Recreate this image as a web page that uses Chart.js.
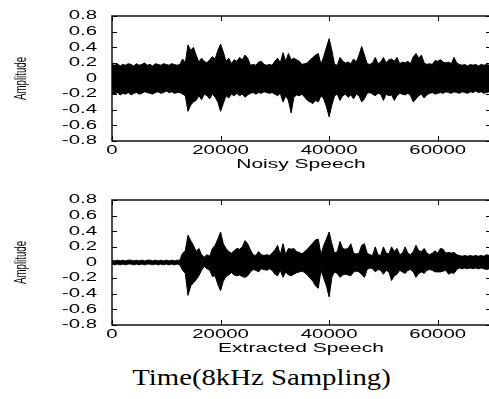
<!DOCTYPE html>
<html>
<head>
<meta charset="utf-8">
<script src="https://cdn.jsdelivr.net/npm/chart.js@4.4.1/dist/chart.umd.min.js"></script>
<style>
  html, body { margin: 0; padding: 0; background: #fff; overflow: hidden; }
  #wrap { position: relative; width: 489px; height: 399px; overflow: hidden; }
  #noisyChart { position: absolute; left: 0; top: 0; }
  #cleanChart { position: absolute; left: 0; top: 184px; }
  #xTitle {
    position: absolute; left: 0; top: 365px; width: 523px; text-align: center;
    font-family: "Liberation Serif", "DejaVu Serif", serif; font-size: 23px; color: #000;
    transform: scaleX(1.25); transform-origin: 261.5px 0;
  }
</style>
</head>
<body>
<div id="wrap">
  <canvas id="noisyChart" width="492" height="172"></canvas>
  <canvas id="cleanChart" width="492" height="172"></canvas>
  <div id="xTitle">Time(8kHz Sampling)</div>
</div>
<script>
// envelope of each waveform, one value every STEP samples
const STEP = 500;

const noisyUpper = [
    0.18,0.17,0.19,0.16,0.18,0.17,0.19,0.18,0.16,0.19,
    0.17,0.18,0.20,0.17,0.18,0.16,0.19,0.18,0.17,0.19,
    0.18,0.17,0.19,0.18,0.17,0.18,0.25,0.20,0.43,0.36,
    0.40,0.30,0.21,0.26,0.22,0.20,0.24,0.28,0.25,0.36,
    0.44,0.34,0.22,0.26,0.19,0.24,0.22,0.27,0.24,0.30,
    0.26,0.17,0.18,0.17,0.21,0.22,0.18,0.17,0.18,0.17,
    0.22,0.26,0.20,0.33,0.22,0.32,0.24,0.26,0.24,0.22,
    0.18,0.19,0.20,0.24,0.27,0.30,0.32,0.18,0.28,0.40,
    0.51,0.36,0.18,0.17,0.27,0.22,0.20,0.21,0.19,0.25,
    0.21,0.30,0.41,0.30,0.19,0.18,0.20,0.27,0.19,0.21,
    0.27,0.20,0.24,0.25,0.22,0.27,0.19,0.21,0.20,0.22,
    0.19,0.28,0.32,0.26,0.30,0.20,0.18,0.19,0.18,0.23,
    0.22,0.24,0.21,0.20,0.21,0.19,0.27,0.20,0.18,0.17,
    0.18,0.16,0.18,0.17,0.18,0.16,0.18,0.17,0.18,0.17,
    0.18
];

const noisyLower = [
    -0.19,-0.20,-0.18,-0.21,-0.19,-0.20,-0.18,-0.21,-0.19,-0.18,
    -0.20,-0.19,-0.17,-0.18,-0.19,-0.20,-0.18,-0.17,-0.19,-0.18,
    -0.16,-0.18,-0.17,-0.19,-0.18,-0.18,-0.20,-0.22,-0.42,-0.34,
    -0.30,-0.28,-0.22,-0.27,-0.20,-0.22,-0.26,-0.20,-0.24,-0.30,
    -0.42,-0.32,-0.22,-0.25,-0.20,-0.22,-0.19,-0.22,-0.20,-0.24,
    -0.21,-0.19,-0.18,-0.20,-0.18,-0.19,-0.17,-0.18,-0.19,-0.18,
    -0.20,-0.22,-0.19,-0.30,-0.22,-0.28,-0.44,-0.24,-0.21,-0.22,
    -0.20,-0.24,-0.28,-0.30,-0.32,-0.28,-0.30,-0.22,-0.26,-0.36,
    -0.49,-0.34,-0.22,-0.20,-0.28,-0.22,-0.20,-0.24,-0.21,-0.26,
    -0.20,-0.22,-0.30,-0.26,-0.19,-0.18,-0.20,-0.22,-0.19,-0.20,
    -0.28,-0.20,-0.22,-0.21,-0.28,-0.22,-0.19,-0.20,-0.21,-0.19,
    -0.22,-0.30,-0.26,-0.22,-0.20,-0.25,-0.21,-0.19,-0.18,-0.20,
    -0.19,-0.18,-0.19,-0.17,-0.18,-0.19,-0.17,-0.18,-0.19,-0.17,
    -0.18,-0.19,-0.17,-0.18,-0.16,-0.18,-0.17,-0.19,-0.18,-0.17,
    -0.18
];

const cleanUpper = [
    0.03,0.02,0.03,0.02,0.03,0.02,0.03,0.03,0.02,0.03,
    0.02,0.03,0.02,0.03,0.03,0.02,0.03,0.02,0.03,0.02,
    0.03,0.02,0.03,0.02,0.03,0.03,0.12,0.15,0.35,0.28,
    0.22,0.14,0.18,0.10,0.07,0.10,0.08,0.18,0.22,0.30,
    0.39,0.24,0.18,0.14,0.12,0.15,0.18,0.17,0.20,0.28,
    0.24,0.16,0.10,0.09,0.14,0.10,0.09,0.10,0.09,0.12,
    0.16,0.22,0.10,0.24,0.10,0.18,0.17,0.18,0.14,0.13,
    0.11,0.14,0.17,0.21,0.25,0.29,0.30,0.10,0.22,0.30,
    0.39,0.24,0.12,0.14,0.27,0.18,0.17,0.18,0.24,0.12,
    0.11,0.12,0.22,0.24,0.12,0.10,0.09,0.20,0.10,0.09,
    0.20,0.12,0.11,0.20,0.14,0.18,0.10,0.12,0.20,0.12,
    0.10,0.14,0.22,0.15,0.14,0.18,0.12,0.10,0.12,0.15,
    0.12,0.18,0.17,0.12,0.13,0.12,0.13,0.10,0.09,0.08,
    0.09,0.08,0.09,0.08,0.09,0.08,0.09,0.08,0.10,0.09,
    0.10
];

const cleanLower = [
    -0.02,-0.03,-0.02,-0.03,-0.02,-0.03,-0.02,-0.02,-0.03,-0.02,
    -0.03,-0.02,-0.03,-0.02,-0.02,-0.03,-0.02,-0.03,-0.02,-0.03,
    -0.02,-0.03,-0.02,-0.03,-0.02,-0.03,-0.10,-0.14,-0.42,-0.30,
    -0.26,-0.22,-0.17,-0.10,-0.05,-0.08,-0.10,-0.18,-0.17,-0.28,
    -0.36,-0.24,-0.18,-0.16,-0.13,-0.16,-0.17,-0.16,-0.18,-0.19,
    -0.17,-0.12,-0.09,-0.10,-0.12,-0.08,-0.09,-0.10,-0.08,-0.10,
    -0.15,-0.17,-0.10,-0.19,-0.12,-0.16,-0.17,-0.15,-0.13,-0.12,
    -0.11,-0.13,-0.16,-0.20,-0.24,-0.30,-0.33,-0.10,-0.20,-0.30,
    -0.44,-0.19,-0.12,-0.14,-0.19,-0.16,-0.15,-0.16,-0.17,-0.12,
    -0.11,-0.12,-0.15,-0.19,-0.09,-0.07,-0.08,-0.12,-0.09,-0.10,
    -0.15,-0.10,-0.12,-0.23,-0.17,-0.15,-0.10,-0.12,-0.14,-0.10,
    -0.09,-0.12,-0.19,-0.14,-0.12,-0.14,-0.10,-0.09,-0.10,-0.12,
    -0.12,-0.12,-0.11,-0.10,-0.15,-0.13,-0.14,-0.09,-0.07,-0.08,
    -0.07,-0.08,-0.07,-0.08,-0.07,-0.08,-0.07,-0.08,-0.09,-0.08,
    -0.09
];

const xTicks = [0, 20000, 40000, 60000];
const yTicks = [0.8, 0.6, 0.4, 0.2, 0, -0.2, -0.4, -0.6, -0.8];

function fmtY(v) {
    return v === 0 ? "0" : v.toFixed(1);
}

// stretched text, the figure was scaled unevenly
function drawText(ctx, txt, x, y, sx, align) {
    ctx.save();
    ctx.translate(x, y);
    ctx.scale(sx, 1);
    ctx.textAlign = align;
    ctx.fillText(txt, 0, 0);
    ctx.restore();
}

const framePlugin = {
    id: "frame",
    afterDraw(chart, args, opts) {
        const ctx = chart.ctx;
        const a = chart.chartArea;
        const xs = chart.scales.x, ys = chart.scales.y;
        ctx.save();
        ctx.strokeStyle = "#000";
        ctx.fillStyle = "#000";
        ctx.lineWidth = 1.4;
        ctx.strokeRect(a.left, a.top, a.right - a.left, a.bottom - a.top);

        // inward ticks on all sides
        ctx.lineWidth = 1;
        ctx.beginPath();
        xTicks.forEach(v => {
            const px = Math.round(xs.getPixelForValue(v)) + 0.5;
            ctx.moveTo(px, a.bottom); ctx.lineTo(px, a.bottom - 5);
            ctx.moveTo(px, a.top); ctx.lineTo(px, a.top + 5);
        });
        yTicks.forEach(v => {
            const py = Math.round(ys.getPixelForValue(v)) + 0.5;
            ctx.moveTo(a.left, py); ctx.lineTo(a.left + 5, py);
            ctx.moveTo(a.right, py); ctx.lineTo(a.right - 6, py);
        });
        ctx.stroke();

        ctx.font = "12px 'Liberation Sans', Arial, sans-serif";
        ctx.textBaseline = "middle";
        yTicks.forEach(v => {
            drawText(ctx, fmtY(v), 97, ys.getPixelForValue(v), 1.7, "right");
        });
        xTicks.forEach(v => {
            drawText(ctx, String(v), xs.getPixelForValue(v), a.bottom + 10, 1.7, "center");
        });
        drawText(ctx, opts.title, (a.left + a.right) / 2 - 1, a.bottom + 23.5, 1.75, "center");

        // condensed vertical axis title
        ctx.font = "17px 'Liberation Sans', Arial, sans-serif";
        ctx.save();
        ctx.translate(21, ys.getPixelForValue(0));
        ctx.rotate(-Math.PI / 2);
        ctx.scale(0.57, 1);
        ctx.textAlign = "center";
        ctx.fillText("Amplitude", 0, 0);
        ctx.restore();

        ctx.restore();
    }
};

function makeWave(id, upper, lower, title) {
    const samples = upper.map((_, i) => i * STEP);
    const pts = arr => arr.map((v, i) => ({ x: samples[i], y: v }));
    new Chart(
        document.getElementById(id),
        {
            type: "line",
            data: {
                datasets: [
                    {
                        data: pts(upper),
                        borderColor: "#000",
                        backgroundColor: "#000",
                        borderWidth: 1,
                        pointRadius: 0,
                        fill: "+1"
                    },
                    {
                        data: pts(lower),
                        borderColor: "#000",
                        borderWidth: 1,
                        pointRadius: 0,
                        fill: false
                    }
                ]
            },
            options: {
                responsive: false,
                animation: false,
                devicePixelRatio: 1,
                layout: { padding: { top: 16, left: 0, right: 0, bottom: 0 } },
                plugins: {
                    legend: { display: false },
                    tooltip: { enabled: false },
                    frame: { title: title }
                },
                scales: {
                    x: {
                        type: "linear",
                        min: 0,
                        max: 70000,
                        ticks: { display: false },
                        grid: { display: false },
                        border: { display: false },
                        afterFit: s => { s.height = 31; }
                    },
                    y: {
                        min: -0.8,
                        max: 0.8,
                        ticks: { display: false, stepSize: 0.2 },
                        grid: { display: false },
                        border: { display: false },
                        afterFit: s => { s.width = 112; }
                    }
                }
            },
            plugins: [framePlugin]
        }
    );
}

makeWave("noisyChart", noisyUpper, noisyLower, "Noisy Speech");
makeWave("cleanChart", cleanUpper, cleanLower, "Extracted Speech");
</script>
</body>
</html>
